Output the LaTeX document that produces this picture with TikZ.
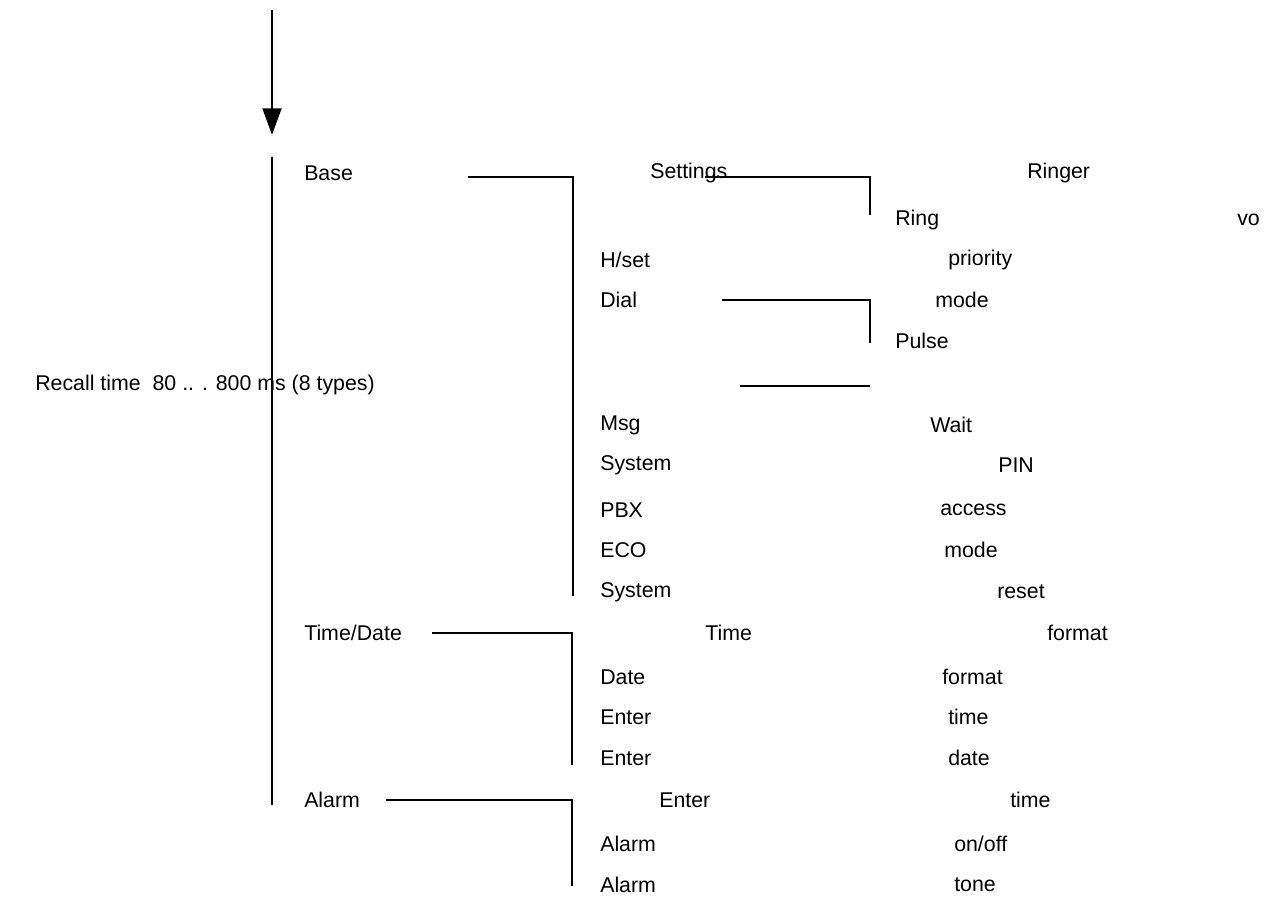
\documentclass[tikz,border=0pt]{standalone}
\usepackage{fontspec}
\setmainfont{Liberation Sans}
\usetikzlibrary{arrows.meta}
\begin{document}
\begin{tikzpicture}[x=0.75pt,y=-0.75pt,
  t/.style={anchor=west,inner sep=0pt,font=\fontsize{16}{18}\selectfont},
  br/.style={line width=2.2pt},
  thin/.style={line width=1pt}]
\useasboundingbox (0,0) rectangle (1265,898);
\coordinate (a0) at (272,10); \coordinate (a1) at (272,135);
\draw[br,-{Triangle[length=20pt,width=14pt]}] (a0) -- (a1);
\coordinate (v0) at (272,157); \coordinate (v1) at (272,805);
\draw[br] (v0) -- (v1);
\foreach \n/\x/\y/\s in {
 n1/304/173/Base, n2/650/173/Settings, n3/1027/173/Ringer,
 n4/895/220/Ring, n5/1237/220/vo, n6/600/260/H\slash set, n7/948/260/priority,
 n8/600/300/Dial, n9/935/300/mode, n10/895/341/Pulse,
 n12/600/425/Msg, n13/930/425/Wait, n14/600/465/System, n15/998/465/PIN,
 n16/600/510/PBX, n17/940/510/access, n18/600/550/ECO, n19/944/550/mode,
 n20/600/592/System, n21/997/592/reset, n22/304/633/Time\slash Date, n23/705/633/Time,
 n24/1047/633/format, n25/600/677/Date, n26/942/677/format, n27/600/717/Enter,
 n28/948/717/time, n29/600/758/Enter, n30/948/758/date, n31/304/800/Alarm,
 n32/659/800/Enter, n33/1010/800/time, n34/600/844/Alarm, n35/954/844/on\slash off,
 n36/600/885/Alarm, n37/954/885/tone}
 \node[t] (\n) at (\x,\y) {\s};
\node[t] (n11) at (35,385) {Recall time\ \ 80 .. . 800 ms (8 types)};
\coordinate (b0) at (468,177); \coordinate (b1) at (573,177); \coordinate (b2) at (573,596);
\draw[br] (b0) -- (b1) -- (b2);
\coordinate (s0) at (705,177); \coordinate (s1) at (870,177); \coordinate (s2) at (870,215);
\draw[br] (s0) -- (s1) -- (s2);
\coordinate (d0) at (722,300); \coordinate (d1) at (870,300); \coordinate (d2) at (870,343);
\draw[br] (d0) -- (d1) -- (d2);
\coordinate (h0) at (740,386); \coordinate (h1) at (870,386);
\draw[thin] (h0) -- (h1);
\coordinate (t0) at (432,633); \coordinate (t1) at (572,633); \coordinate (t2) at (572,765);
\draw[br] (t0) -- (t1) -- (t2);
\coordinate (l0) at (386,800); \coordinate (l1) at (572,800); \coordinate (l2) at (572,886);
\draw[br] (l0) -- (l1) -- (l2);
\end{tikzpicture}
\end{document}
